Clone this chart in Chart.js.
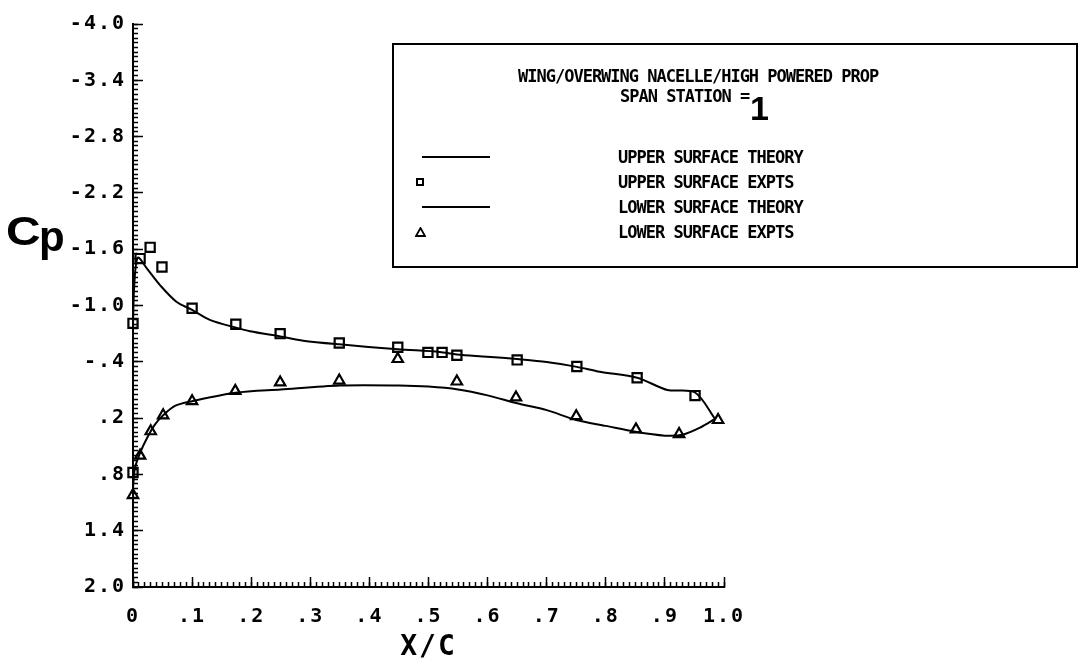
<!DOCTYPE html>
<html><head><meta charset="utf-8">
<script src="https://cdn.jsdelivr.net/npm/chart.js@4.4.0/dist/chart.umd.min.js"></script>
<style>
html,body{margin:0;padding:0;background:#fff;}
#wrap{position:relative;width:1079px;height:668px;overflow:hidden;background:#fff;}
#c{position:absolute;left:0;top:0;}
.mono{position:absolute;font-family:"DejaVu Sans Mono",monospace;font-weight:bold;font-size:17px;letter-spacing:-1px;line-height:17px;color:#000;white-space:pre;}
.big{position:absolute;font-family:"Liberation Sans",Arial,sans-serif;font-weight:bold;color:#000;white-space:pre;}
#box{position:absolute;left:392px;top:43px;width:686px;height:225px;border:2px solid #000;box-sizing:border-box;}
.lline{position:absolute;height:2px;background:#000;}
.lsq{position:absolute;width:4px;height:4px;border:2px solid #000;}
.ltri{position:absolute;}
</style></head>
<body>
<div id="wrap">
<canvas id="c" width="1079" height="668"></canvas>
<div id="box"></div>
<div class="mono" style="left:518px;top:68px;">WING/OVERWING NACELLE/HIGH POWERED PROP</div>
<div class="mono" style="left:620px;top:88px;">SPAN STATION =</div>
<div class="big" style="left:750px;top:91px;font-size:34px;line-height:34px;">1</div>
<div id="legendRows"></div>
<div class="big" style="left:6px;top:211px;font-size:40px;line-height:40px;transform:scaleX(1.2);transform-origin:0 0;">C</div>
<div class="big" style="left:39px;top:216px;font-size:42px;line-height:42px;">p</div>
</div>
<script>
// ---- data ----
const xTickLabels = ['0', '.1', '.2', '.3', '.4', '.5', '.6', '.7', '.8', '.9', '1.0'];
const yTickLabels = ['-4.0', '-3.4', '-2.8', '-2.2', '-1.6', '-1.0', '-.4', '.2', '.8', '1.4', '2.0'];

const upperTheoryX = [0, 0.002, 0.008, 0.024, 0.046, 0.074, 0.10, 0.13, 0.174, 0.198, 0.249, 0.288, 0.349, 0.448, 0.519, 0.548, 0.599, 0.65, 0.70, 0.751, 0.79, 0.853, 0.904, 0.951, 0.985];
const upperTheoryCp = [-0.80, -1.20, -1.51, -1.39, -1.215, -1.037, -0.953, -0.847, -0.764, -0.725, -0.67, -0.625, -0.586, -0.534, -0.505, -0.478, -0.455, -0.429, -0.398, -0.346, -0.293, -0.23, -0.10, -0.073, 0.209];

const upperExptX = [0, 0.012, 0.029, 0.049, 0.10, 0.174, 0.249, 0.349, 0.448, 0.499, 0.523, 0.548, 0.65, 0.751, 0.853, 0.951, 0];
const upperExptCp = [-0.81, -1.50, -1.62, -1.41, -0.97, -0.80, -0.70, -0.60, -0.555, -0.50, -0.50, -0.47, -0.42, -0.35, -0.23, -0.04, 0.78];

const lowerTheoryX = [0, 0.003, 0.012, 0.024, 0.037, 0.051, 0.071, 0.10, 0.173, 0.25, 0.35, 0.45, 0.50, 0.55, 0.60, 0.65, 0.70, 0.75, 0.80, 0.85, 0.90, 0.93, 0.96, 0.985];
const lowerTheoryCp = [0.95, 0.74, 0.57, 0.41, 0.27, 0.17, 0.07, 0.02, -0.07, -0.105, -0.147, -0.147, -0.136, -0.105, -0.042, 0.042, 0.115, 0.22, 0.283, 0.346, 0.387, 0.377, 0.30, 0.209];

const lowerExptX = [0, 0.012, 0.030, 0.051, 0.10, 0.173, 0.249, 0.349, 0.448, 0.548, 0.648, 0.75, 0.851, 0.924, 0.99];
const lowerExptCp = [1.02, 0.60, 0.34, 0.17, 0.02, -0.09, -0.18, -0.20, -0.43, -0.19, -0.02, 0.18, 0.32, 0.37, 0.22];

const seriesLabels = ['UPPER SURFACE THEORY', 'UPPER SURFACE EXPTS', 'LOWER SURFACE THEORY', 'LOWER SURFACE EXPTS'];

const pts = (xs, ys) => xs.map((x, i) => ({x: x, y: ys[i]}));

const theoryStyle = {showLine: true, borderColor: '#000', borderWidth: 2, pointRadius: 0, tension: 0.3, clip: false};
const exptStyle = {showLine: false, borderColor: '#000', backgroundColor: 'rgba(0,0,0,0)', borderWidth: 2.2, clip: false};

const htmlLegend = {
  id: 'htmlLegend',
  afterUpdate(chart) {
    const host = document.getElementById('legendRows');
    host.innerHTML = '';
    chart.data.datasets.forEach((ds, i) => {
      const cy = 157 + i * 25;
      if (ds.showLine) {
        const l = document.createElement('div');
        l.className = 'lline';
        l.style.left = '422px'; l.style.width = '68px'; l.style.top = (cy - 1) + 'px';
        host.appendChild(l);
      } else if (ds.pointStyle === 'rect') {
        const s = document.createElement('div');
        s.className = 'lsq';
        s.style.left = '416px'; s.style.top = (cy - 4) + 'px';
        host.appendChild(s);
      } else {
        const t = document.createElementNS('http://www.w3.org/2000/svg', 'svg');
        t.setAttribute('class', 'ltri');
        t.setAttribute('width', '11'); t.setAttribute('height', '10');
        t.style.left = '415px'; t.style.top = (cy - 5) + 'px';
        t.innerHTML = '<polygon points="5.5,1 10,9 1,9" fill="none" stroke="#000" stroke-width="1.8"/>';
        host.appendChild(t);
      }
      const tx = document.createElement('div');
      tx.className = 'mono';
      tx.style.left = '618px'; tx.style.top = (cy - 8) + 'px';
      tx.textContent = ds.label;
      host.appendChild(tx);
    });
  }
};

const spacingPlugin = {
  id: 'spacing',
  beforeDraw(chart) { chart.ctx.letterSpacing = '2px'; }
};

const tickFont = {family: 'DejaVu Sans Mono', size: 20, weight: 'bold'};

new Chart(document.getElementById('c'), {
  type: 'scatter',
  data: {
    datasets: [
      Object.assign({label: seriesLabels[0], data: pts(upperTheoryX, upperTheoryCp)}, theoryStyle),
      Object.assign({label: seriesLabels[1], data: pts(upperExptX, upperExptCp), pointStyle: 'rect', pointRadius: 6.5}, exptStyle),
      Object.assign({label: seriesLabels[2], data: pts(lowerTheoryX, lowerTheoryCp)}, theoryStyle),
      Object.assign({label: seriesLabels[3], data: pts(lowerExptX, lowerExptCp), pointStyle: 'triangle', pointRadius: 6}, exptStyle)
    ]
  },
  options: {
    responsive: false,
    animation: false,
    events: [],
    layout: {padding: {left: 0, top: 14, right: 355, bottom: 0}},
    plugins: {legend: {display: false}, tooltip: {enabled: false}},
    scales: {
      x: {
        type: 'linear', position: 'bottom', min: 0, max: 1, weight: 1,
        afterFit: s => { s.height = 81; },
        border: {display: true, color: '#000', width: 2},
        grid: {drawOnChartArea: false, drawTicks: true, tickLength: -5, tickColor: '#000', tickWidth: 1.5},
        ticks: {
          stepSize: 0.01, autoSkip: false, maxRotation: 0, minRotation: 0, padding: 23,
          color: '#000', font: tickFont,
          callback: v => { const k = Math.round(v * 100); return k % 10 === 0 ? xTickLabels[k / 10] : ''; }
        },
        title: {display: true, text: 'X/C', color: '#000', font: {family: 'DejaVu Sans Mono', size: 28, weight: 'bold'}, padding: {top: 0, bottom: 3}}
      },
      xMaj: {
        type: 'linear', position: 'bottom', min: 0, max: 1, weight: 0,
        afterFit: s => { s.height = 0; },
        border: {display: false},
        grid: {drawOnChartArea: false, drawTicks: true, tickLength: -10, tickColor: '#000', tickWidth: 1.5},
        ticks: {stepSize: 0.1, display: false}
      },
      y: {
        type: 'linear', position: 'left', min: -4, max: 2, reverse: true, weight: 1,
        afterFit: s => { s.width = 133; },
        border: {display: true, color: '#000', width: 2},
        grid: {drawOnChartArea: false, drawTicks: true, tickLength: -5, tickColor: '#000', tickWidth: 1.5},
        ticks: {
          stepSize: 0.05, autoSkip: false, padding: 12,
          color: '#000', font: tickFont,
          callback: v => { const k = Math.round((v + 4) * 100); return k % 60 === 0 ? yTickLabels[k / 60] : ''; }
        }
      },
      yMaj: {
        type: 'linear', position: 'left', min: -4, max: 2, reverse: true, weight: 0,
        afterFit: s => { s.width = 0; },
        border: {display: false},
        grid: {drawOnChartArea: false, drawTicks: true, tickLength: -10, tickColor: '#000', tickWidth: 1.5},
        ticks: {stepSize: 0.6, display: false}
      }
    }
  },
  plugins: [htmlLegend, spacingPlugin]
});
</script>
</body></html>
